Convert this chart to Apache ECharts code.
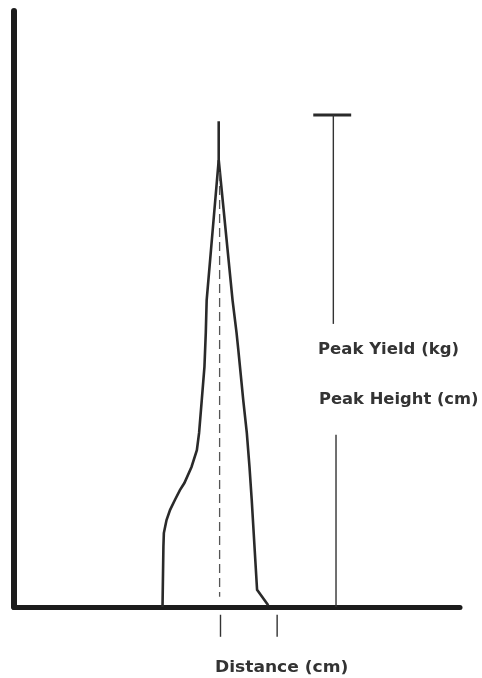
<!DOCTYPE html>
<html>
<head>
<meta charset="utf-8">
<script src="https://cdn.jsdelivr.net/npm/echarts@6/dist/echarts.min.js"></script>
<style>
  html, body { margin: 0; padding: 0; background: #fff; }
  #main { width: 482px; height: 678px; }
</style>
</head>
<body>
<div id="main"></div>
<script>
// peak profile, distance (x) vs height (y), both 0-100 scale
const peakLeft = [
  [33.3, 0], [33.5, 10.1], [33.6, 12.4], [33.9, 13.5], [34.2, 14.6],
  [35.0, 16.3], [36.1, 18.0], [37.2, 19.6], [38.2, 20.8], [39.8, 23.5],
  [41.0, 26.3], [41.5, 29.2], [42.1, 34.7], [42.7, 40.3], [43.0, 46.0],
  [43.2, 51.5], [45.9, 75.0]
];
const peakRight = [
  [45.9, 75.0], [49.0, 51.5], [49.9, 46.0], [50.3, 43.1], [51.4, 34.7],
  [52.2, 29.2], [52.8, 23.5], [53.3, 18.0], [54.5, 2.9], [57.0, 0.3]
];
const peakSpike = [[45.9, 81.5], [45.9, 75.0]];
const peakDrop = [[46.1, 73.0], [46.1, 1.7]];
const tickA = [[46.3, -1.3], [46.3, -5.0]];
const tickB = [[59.0, -1.3], [59.0, -5.0]];
const barCap = [[67.1, 82.55], [75.6, 82.55]];
const barTop = [[71.6, 82.55], [71.6, 47.5]];
const barBottom = [[72.2, 28.9], [72.2, 0]];

const labels = {
  yield: 'Peak Yield (kg)',
  height: 'Peak Height (cm)',
  distance: 'Distance (cm)'
};

var chart = echarts.init(document.getElementById('main'), null, { renderer: 'canvas' });

function seg(data, width, color, dashed) {
  return {
    type: 'line',
    data: data,
    symbol: 'none',
    silent: true,
    clip: false,
    lineStyle: {
      width: width,
      color: color,
      type: dashed ? [9, 5] : 'solid',
      cap: 'butt',
      join: 'miter'
    }
  };
}

function txt(text, x, y, sx) {
  return {
    type: 'text',
    x: x,
    y: y,
    scaleX: sx,
    style: {
      text: text,
      fill: '#333',
      font: 'bold 15px "DejaVu Sans"',
      textVerticalAlign: 'top'
    }
  };
}

var option = {
  backgroundColor: '#ffffff',
  animation: false,
  grid: { left: 14, right: 22, top: 11, bottom: 71 },
  xAxis: {
    type: 'value',
    min: 0,
    max: 100,
    axisLine: { show: true, lineStyle: { color: '#1c1c1c', width: 5 } },
    axisTick: { show: false },
    axisLabel: { show: false },
    splitLine: { show: false }
  },
  yAxis: {
    type: 'value',
    min: 0,
    max: 100,
    axisLine: { show: true, lineStyle: { color: '#1c1c1c', width: 6 } },
    axisTick: { show: false },
    axisLabel: { show: false },
    splitLine: { show: false }
  },
  series: [
    seg(peakLeft, 2.6, '#2a2a2a'),
    seg(peakRight, 2.6, '#2a2a2a'),
    seg(peakSpike, 2.6, '#2a2a2a'),
    seg(peakDrop, 1.3, '#555', true),
    seg(tickA, 1.4, '#333'),
    seg(tickB, 1.4, '#333'),
    seg(barCap, 3, '#2a2a2a'),
    seg(barTop, 1.4, '#333'),
    seg(barBottom, 1.4, '#333')
  ],
  graphic: [
    txt(labels.yield, 318, 343, 1.1),
    txt(labels.height, 319, 393, 1.09),
    txt(labels.distance, 215, 661, 1.14)
  ]
};

chart.setOption(option);
</script>
</body>
</html>
